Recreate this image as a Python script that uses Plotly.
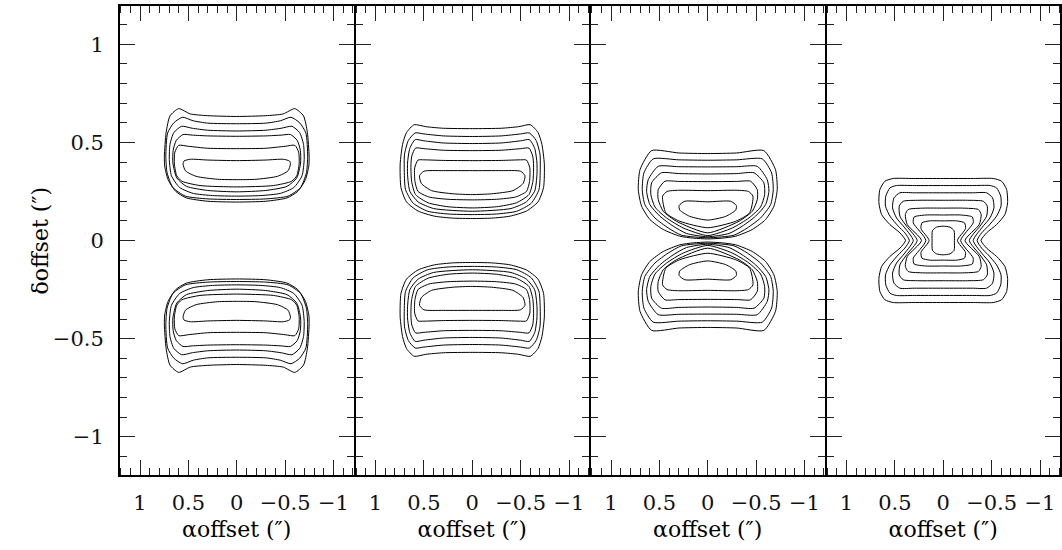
import plotly.graph_objects as go

# ---- contour traces (arcsec offsets) ----
# Panels 1-3: upper lobe only, x >= 0 half, listed from top-centre round to
# bottom-centre; the x < 0 half and the lower lobe are mirror images.
p1_x = [
    [0, 0.30, 0.48, 0.60, 0.69, 0.73, 0.748, 0.745, 0.71, 0.63, 0.52, 0.30, 0],
    [0, 0.30, 0.45, 0.56, 0.65, 0.715, 0.733, 0.72, 0.66, 0.53, 0.30, 0],
    [0, 0.30, 0.46, 0.57, 0.65, 0.69, 0.697, 0.675, 0.59, 0.45, 0.25, 0],
    [0, 0.30, 0.46, 0.555, 0.625, 0.657, 0.66, 0.62, 0.52, 0.30, 0],
    [0, 0.30, 0.50, 0.60, 0.64, 0.645, 0.62, 0.567, 0.38, 0],
    [0, 0.30, 0.48, 0.545, 0.555, 0.53, 0.42, 0.20, 0],
]
p1_y = [
    [0.632, 0.636, 0.645, 0.672, 0.635, 0.55, 0.43, 0.38, 0.31, 0.25, 0.217, 0.200, 0.196],
    [0.595, 0.598, 0.61, 0.628, 0.60, 0.547, 0.43, 0.345, 0.27, 0.226, 0.212, 0.209],
    [0.558, 0.562, 0.572, 0.582, 0.55, 0.49, 0.413, 0.33, 0.27, 0.24, 0.229, 0.226],
    [0.531, 0.533, 0.537, 0.54, 0.51, 0.46, 0.395, 0.319, 0.276, 0.255, 0.248],
    [0.468, 0.47, 0.48, 0.485, 0.45, 0.39, 0.33, 0.302, 0.28, 0.273],
    [0.407, 0.41, 0.414, 0.405, 0.39, 0.355, 0.327, 0.312, 0.31],
]

p2_x = [
    [0, 0.30, 0.48, 0.60, 0.68, 0.72, 0.745, 0.737, 0.68, 0.56, 0.39, 0.20, 0],
    [0, 0.30, 0.50, 0.59, 0.66, 0.70, 0.703, 0.69, 0.61, 0.46, 0.25, 0],
    [0, 0.30, 0.50, 0.59, 0.645, 0.668, 0.669, 0.645, 0.56, 0.40, 0],
    [0, 0.30, 0.50, 0.586, 0.625, 0.634, 0.627, 0.586, 0.456, 0.25, 0],
    [0, 0.30, 0.50, 0.56, 0.595, 0.592, 0.56, 0.45, 0.25, 0],
    [0, 0.30, 0.50, 0.545, 0.525, 0.42, 0.20, 0],
]
p2_y = [
    [0.57, 0.572, 0.58, 0.59, 0.55, 0.49, 0.39, 0.27, 0.197, 0.15, 0.124, 0.114, 0.112],
    [0.53, 0.533, 0.543, 0.548, 0.51, 0.44, 0.37, 0.26, 0.19, 0.149, 0.135, 0.132],
    [0.494, 0.497, 0.508, 0.514, 0.47, 0.40, 0.336, 0.251, 0.197, 0.163, 0.149],
    [0.458, 0.46, 0.468, 0.471, 0.43, 0.38, 0.302, 0.234, 0.192, 0.172, 0.166],
    [0.407, 0.408, 0.411, 0.41, 0.37, 0.30, 0.25, 0.222, 0.21, 0.207],
    [0.356, 0.356, 0.353, 0.33, 0.29, 0.254, 0.238, 0.234],
]

p3_x = [
    [0, 0.30, 0.58, 0.70, 0.718, 0.684, 0.598, 0.46, 0.289, 0.149, 0],
    [0, 0.30, 0.564, 0.66, 0.677, 0.65, 0.546, 0.409, 0.271, 0],
    [0, 0.30, 0.512, 0.615, 0.632, 0.598, 0.495, 0.357, 0.22, 0],
    [0, 0.30, 0.478, 0.58, 0.588, 0.546, 0.426, 0.254, 0],
    [0, 0.30, 0.443, 0.512, 0.512, 0.46, 0.323, 0],
    [0, 0.30, 0.42, 0.467, 0.433, 0.289, 0],
    [0, 0.237, 0.296, 0.289, 0.186, 0],
]
p3_y = [
    [0.443, 0.446, 0.458, 0.361, 0.259, 0.175, 0.107, 0.056, 0.022, 0.012, 0.008],
    [0.409, 0.411, 0.416, 0.344, 0.259, 0.183, 0.115, 0.064, 0.027, 0.014],
    [0.375, 0.376, 0.378, 0.31, 0.251, 0.183, 0.124, 0.073, 0.036, 0.019],
    [0.339, 0.341, 0.345, 0.294, 0.234, 0.171, 0.115, 0.064, 0.025],
    [0.30, 0.301, 0.302, 0.259, 0.209, 0.149, 0.098, 0.039],
    [0.254, 0.256, 0.25, 0.226, 0.141, 0.098, 0.065],
    [0.197, 0.20, 0.178, 0.155, 0.123, 0.104],
]

# Panel 4: one quadrant (x >= 0, y >= 0), top-centre round to the waist on y = 0
p4_x = [
    [0, 0.311, 0.517, 0.603, 0.655, 0.665, 0.637, 0.551, 0.448, 0.39],
    [0, 0.30, 0.486, 0.551, 0.594, 0.597, 0.551, 0.465, 0.397, 0.35],
    [0, 0.30, 0.448, 0.51, 0.524, 0.483, 0.397, 0.31],
    [0, 0.25, 0.414, 0.455, 0.448, 0.379, 0.27],
    [0, 0.20, 0.362, 0.392, 0.372, 0.225],
    [0, 0.18, 0.30, 0.31, 0.18],
    [0, 0.14, 0.22, 0.23, 0.146],
    [0, 0.07, 0.112, 0.115],
]
p4_y = [
    [0.316, 0.316, 0.316, 0.302, 0.26, 0.192, 0.132, 0.081, 0.039, 0.0],
    [0.28, 0.28, 0.28, 0.268, 0.226, 0.175, 0.124, 0.073, 0.039, 0.0],
    [0.243, 0.243, 0.243, 0.217, 0.166, 0.115, 0.064, 0.0],
    [0.205, 0.205, 0.20, 0.175, 0.124, 0.073, 0.0],
    [0.165, 0.165, 0.158, 0.132, 0.081, 0.0],
    [0.13, 0.13, 0.12, 0.09, 0.0],
    [0.10, 0.10, 0.09, 0.06, 0.0],
    [0.073, 0.068, 0.05, 0.0],
]

x_ticks = [1, 0.5, 0, -0.5, -1]
x_ticktext = ["1", "0.5", "0", "\u22120.5", "\u22121"]
y_ticks = [1, 0.5, 0, -0.5, -1]
y_ticktext = ["1", "0.5", "0", "\u22120.5", "\u22121"]
x_range = [1.217, -1.217]
y_range = [-1.2, 1.2]


def loop_from_half(xs, ys):
    pts = list(zip(xs, ys))
    back = [(-x, y) for x, y in reversed(pts[:-1])]
    full = pts + back
    return [p[0] for p in full], [p[1] for p in full]


def loop_from_quadrant(xs, ys):
    pts = list(zip(xs, ys))
    right = pts + [(x, -y) for x, y in reversed(pts[:-1])]
    full = right + [(-x, y) for x, y in reversed(right[:-1])]
    return [p[0] for p in full], [p[1] for p in full]


fig = go.Figure()
line_style = dict(color="black", width=1, shape="spline", smoothing=0.6)


def add_loop(px, py, k):
    fig.add_trace(go.Scatter(x=px, y=py, mode="lines", line=line_style,
                             xaxis=f"x{k}", yaxis=f"y{k}",
                             showlegend=False, hoverinfo="skip"))


for k, (gx, gy) in enumerate([(p1_x, p1_y), (p2_x, p2_y), (p3_x, p3_y)], start=1):
    for xs, ys in zip(gx, gy):
        lx, ly = loop_from_half(xs, ys)
        add_loop(lx, ly, k)
        add_loop(lx, [-v for v in ly], k)

for xs, ys in zip(p4_x, p4_y):
    lx, ly = loop_from_quadrant(xs, ys)
    add_loop(lx, ly, 4)

font_family = "DejaVu Serif"
title_font = dict(family=font_family, size=22, color="black")
axis_common = dict(
    showline=True, linecolor="black", linewidth=1, mirror="ticks",
    ticks="inside", ticklen=16, tickwidth=1, tickcolor="#222",
    showgrid=False, zeroline=False,
    minor=dict(ticks="inside", ticklen=8, tickwidth=1, tickcolor="#222", dtick=0.1, tick0=0),
)

layout = dict(
    width=1062, height=550,
    margin=dict(l=119, r=1, t=5, b=74),
    paper_bgcolor="white", plot_bgcolor="white",
    font=dict(family=font_family, size=21, color="#111"),
)
for k in range(1, 5):
    layout[f"xaxis{k}"] = dict(
        axis_common, domain=[(k - 1) / 4, k / 4], anchor=f"y{k}",
        range=x_range, autorange=False,
        tickmode="array", tickvals=x_ticks, ticktext=x_ticktext,
        ticklabelstandoff=8,
        title=dict(text="\u03b1offset (\u2033)", standoff=7, font=title_font),
    )
    layout[f"yaxis{k}"] = dict(
        axis_common, domain=[0, 1], anchor=f"x{k}",
        range=y_range, autorange=False,
        tickmode="array", tickvals=y_ticks, ticktext=y_ticktext,
        showticklabels=(k == 1),
        ticklabelstandoff=10,
    )

fig.update_layout(**layout)

# outer frame drawn a little heavier than the panel ticks
fig.add_shape(type="rect", xref="paper", yref="paper", x0=0, y0=0, x1=1, y1=1,
              line=dict(color="black", width=2), layer="above")

fig.add_annotation(text="\u03b4offset (\u2033)", xref="paper", yref="paper",
                   x=(40 - 119) / 942, y=0.5, textangle=-90, showarrow=False,
                   xanchor="center", yanchor="middle", font=title_font)

fig.write_html("out.html")
